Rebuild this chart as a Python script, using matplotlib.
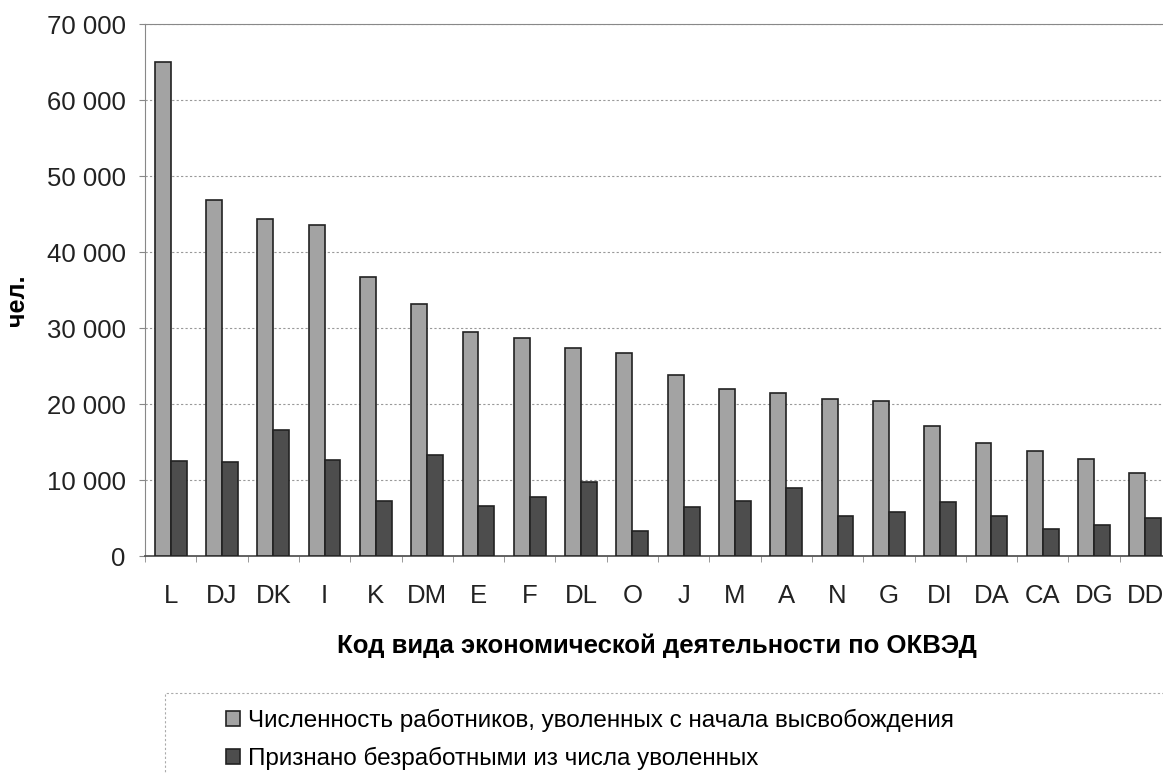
import matplotlib.pyplot as plt
import numpy as np
from matplotlib.ticker import FuncFormatter, FixedLocator
from matplotlib.patches import Rectangle

plt.rcParams['font.family'] = ['Liberation Sans', 'DejaVu Sans']

# data
codes = ["L", "DJ", "DK", "I", "K", "DM", "E", "F", "DL", "O",
         "J", "M", "A", "N", "G", "DI", "DA", "CA", "DG", "DD"]
dismissed = [65000, 46800, 44400, 43600, 36700, 33200, 29500, 28700, 27400, 26700,
             23800, 22000, 21400, 20600, 20400, 17100, 14900, 13800, 12700, 10900]
unemployed = [12500, 12400, 16600, 12600, 7300, 13300, 6600, 7800, 9700, 3300,
              6450, 7200, 9000, 5300, 5800, 7100, 5200, 3600, 4100, 5000]

label1 = "Численность работников, уволенных с начала высвобождения"
label2 = "Признано безработными из числа уволенных"

fig = plt.figure(figsize=(11.63, 7.74), dpi=100)
ax = fig.add_axes([145 / 1163, 1 - 556 / 774, (1171 - 145) / 1163, 532 / 774])

x = np.arange(len(codes))
w = 0.31
b1 = ax.bar(x - w / 2, dismissed, w, color="#a3a3a3", edgecolor="#222222",
            linewidth=1.2, label=label1, zorder=3)
b2 = ax.bar(x + w / 2, unemployed, w, color="#4d4d4d", edgecolor="#222222",
            linewidth=1.2, label=label2, zorder=3)

ax.set_xlim(-0.5, len(codes) - 0.5)
ax.set_ylim(0, 70000)
ax.set_yticks(range(0, 70001, 10000))
ax.yaxis.set_major_formatter(FuncFormatter(lambda v, p: f"{int(v):,}".replace(",", " ")))
ax.grid(axis="y", color="#999999", linestyle=(0, (2, 2)), linewidth=0.8, zorder=0)

ax.set_xticks(x)
ax.set_xticklabels(codes)
ax.xaxis.set_minor_locator(FixedLocator(np.arange(-0.5, len(codes), 1)))
ax.tick_params(axis="x", which="major", length=0, pad=20, labelsize=18.5, colors="#222222")
ax.tick_params(axis="x", which="minor", length=4, color="#888888")
ax.tick_params(axis="y", length=4, color="#888888", pad=10, labelsize=18.5, labelcolor="#222222")

ax.spines["right"].set_visible(False)
ax.spines["top"].set_color("#888888")
ax.spines["top"].set_linestyle((0, (2, 1)))
ax.spines["left"].set_color("#888888")
ax.spines["bottom"].set_color("#555555")
ax.spines["bottom"].set_linewidth(1.3)

ax.set_ylabel("чел.", fontsize=18, fontweight="bold")
ax.yaxis.set_label_coords(-0.113, 0.48)
ax.set_xlabel("Код вида экономической деятельности по ОКВЭД", fontsize=18.5,
              fontweight="bold")
ax.xaxis.set_label_coords((657 - 145) / (1171 - 145), -(633 - 556) / 532)

# legend box
fig.patches.append(Rectangle((165 / 1163, -0.05), 1.1, (774 - 693) / 774 + 0.05,
                             transform=fig.transFigure, fill=False,
                             edgecolor="#aaaaaa", linestyle=(0, (2, 2)), linewidth=0.8))
fig.legend(handles=[b1, b2], loc="upper left", bbox_to_anchor=(204 / 1163, 1 - 687 / 774),
           frameon=False, fontsize=17.5, handlelength=0.6, handleheight=0.6,
           handletextpad=0.3, labelspacing=0.62)

fig.savefig("out.png", dpi=100, facecolor="white")
